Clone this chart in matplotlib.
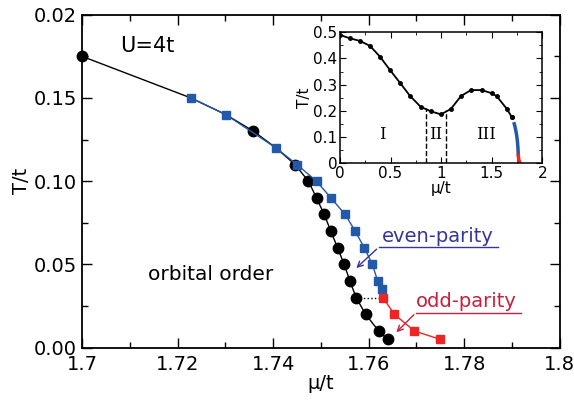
import numpy as np
import matplotlib.pyplot as plt
from matplotlib.ticker import MultipleLocator, FixedLocator

# main panel data (mu/t, T/t)
mu_orb = [1.700, 1.7228, 1.7301, 1.7359, 1.7406, 1.7446, 1.7474, 1.7491, 1.7507, 1.7521,
          1.7535, 1.7549, 1.7561, 1.7574, 1.7594, 1.7621, 1.7640]
T_orb = [0.175, 0.150, 0.140, 0.130, 0.120, 0.110, 0.100, 0.090, 0.080, 0.070,
         0.060, 0.050, 0.040, 0.030, 0.020, 0.010, 0.005]

mu_even = [1.7228, 1.7301, 1.7406, 1.7450, 1.7491, 1.7521, 1.7551, 1.7572, 1.7591,
           1.7608, 1.7619, 1.7629]
T_even = [0.150, 0.140, 0.120, 0.110, 0.100, 0.090, 0.080, 0.070, 0.060,
          0.050, 0.040, 0.035]

mu_odd = [1.7630, 1.7654, 1.7696, 1.7750]
T_odd = [0.030, 0.020, 0.010, 0.005]

# inset: full phase boundary
mu_in = [0.0, 0.099, 0.198, 0.297, 0.395, 0.494, 0.593, 0.692, 0.798, 0.897, 0.999,
         1.097, 1.196, 1.295, 1.401, 1.500, 1.549, 1.648, 1.697, 1.700]
T_in = [0.490, 0.477, 0.467, 0.448, 0.407, 0.356, 0.307, 0.257, 0.215, 0.198, 0.186,
        0.207, 0.256, 0.279, 0.279, 0.267, 0.256, 0.208, 0.177, 0.175]
mu_bounds = [0.847, 1.048]
T_bounds = [0.209, 0.204]
regions = ["I", "II", "III"]
mu_regions = [0.42, 0.95, 1.44]

blue = "#2458a8"
red = "#ee2525"
txt_blue = "#35359a"
txt_red = "#c8203a"

plt.rcParams['font.family'] = ['DejaVu Sans']
fig = plt.figure(figsize=(5.74, 4.05), dpi=100)
ax = fig.add_axes([0.1429, 0.1415, 0.8321, 0.8222])

# black circles hidden under the blue squares are not drawn
shown = [i for i in range(len(mu_orb)) if i not in (1, 2, 4)]
ax.plot(mu_orb, T_orb, '-', color='black', lw=1.0, marker='o', ms=7.5,
        markevery=shown, zorder=2, clip_on=False)
ax.plot(mu_even, T_even, '-', color=blue, lw=1.0, marker='s', ms=6.2, zorder=3)
ax.plot(mu_odd, T_odd, '-', color=red, lw=1.0, marker='s', ms=6.2, zorder=3)
ax.plot([mu_orb[13], mu_odd[0]], [T_orb[13], T_odd[0]], ':', color='black', lw=1.0, zorder=1)

ax.set_xlim(1.7, 1.8)
ax.set_ylim(0.0, 0.2)
ax.xaxis.set_major_locator(FixedLocator([1.70, 1.72, 1.74, 1.76, 1.78, 1.80]))
ax.xaxis.set_minor_locator(MultipleLocator(0.01))
ax.yaxis.set_major_locator(FixedLocator([0.0, 0.05, 0.10, 0.15, 0.20]))
ax.yaxis.set_minor_locator(MultipleLocator(0.025))
ax.set_xticklabels(["1.7", "1.72", "1.74", "1.76", "1.78", "1.8"])
ax.set_yticklabels(["0.00", "0.05", "0.10", "0.15", "0.02"])
ax.tick_params(which='both', direction='in', top=True, right=True, labelsize=14, width=1.0)
ax.tick_params(which='major', length=7)
ax.tick_params(which='minor', length=4)
ax.tick_params(axis='x', pad=5)
for s in ax.spines.values():
    s.set_linewidth(1.3)
ax.set_xlabel("μ/t", fontsize=14, labelpad=0)
ax.set_ylabel("T/t", fontsize=14, labelpad=2)

ax.text(1.708, 0.181, "U=4t", fontsize=15, va='center', ha='left')
ax.text(1.7139, 0.0437, "orbital order", fontsize=14.5, va='center', ha='left')

# even-parity label with underline and arrow
ax.text(1.7628, 0.0668, "even-parity", fontsize=14, color=txt_blue, va='center', ha='left')
ax.plot([1.7621, 1.7870], [0.0603, 0.0603], color=txt_blue, lw=1.0)
ax.annotate("", xy=(1.7570, 0.0467), xytext=(1.7621, 0.0603),
            arrowprops=dict(arrowstyle='->', color=txt_blue, lw=1.0))

# odd-parity label with underline and arrow
ax.text(1.7699, 0.0278, "odd-parity", fontsize=14, color=txt_red, va='center', ha='left')
ax.plot([1.7699, 1.7919], [0.0210, 0.0210], color=txt_red, lw=1.0)
ax.annotate("", xy=(1.7654, 0.0081), xytext=(1.7699, 0.0210),
            arrowprops=dict(arrowstyle='->', color=txt_red, lw=1.0))

# inset
ins = fig.add_axes([0.5923, 0.5975, 0.3524, 0.3227])
ins.plot(mu_in, T_in, '-', color='black', lw=1.3, marker='o', ms=2.5)
ins.plot(mu_even, T_even, '-', color=blue, lw=2.5)
ins.plot(mu_odd, T_odd, '-', color=red, lw=2.5)
for m, t in zip(mu_bounds, T_bounds):
    ins.plot([m, m], [0, t], '--', color='black', lw=1.0)
for m, r in zip(mu_regions, regions):
    ins.text(m, 0.11, r, fontsize=12, family='DejaVu Serif', ha='center', va='center')
ins.set_xlim(0, 2)
ins.set_ylim(0, 0.5)
ins.xaxis.set_major_locator(FixedLocator([0, 0.5, 1, 1.5, 2]))
ins.xaxis.set_minor_locator(MultipleLocator(0.25))
ins.yaxis.set_major_locator(FixedLocator([0, 0.1, 0.2, 0.3, 0.4, 0.5]))
ins.yaxis.set_minor_locator(MultipleLocator(0.05))
ins.set_xticklabels(["0", "0.5", "1", "1.5", "2"])
ins.set_yticklabels(["0", "0.1", "0.2", "0.3", "0.4", "0.5"])
ins.tick_params(which='both', direction='in', top=True, right=True, labelsize=11)
ins.tick_params(axis='x', pad=2.5)
ins.tick_params(axis='y', pad=2)
ins.tick_params(which='major', length=4.5)
ins.tick_params(which='minor', length=2.5)
for s in ins.spines.values():
    s.set_linewidth(1.1)
ins.set_xlabel("μ/t", fontsize=11, labelpad=0)
ins.set_ylabel("T/t", fontsize=11, labelpad=1)

fig.savefig("out.png", dpi=100)
